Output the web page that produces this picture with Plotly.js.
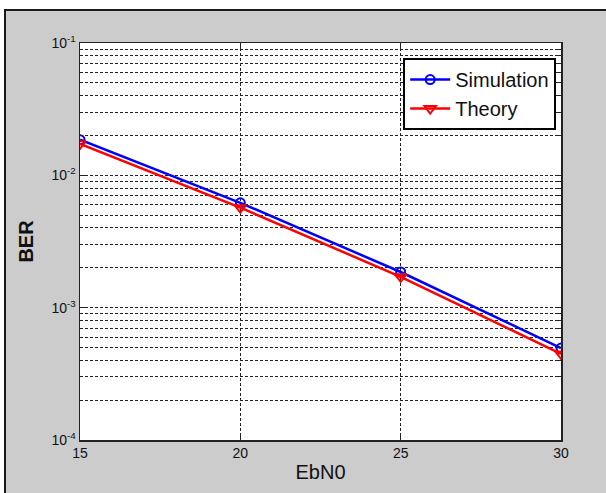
<!DOCTYPE html>
<html>
<head>
<meta charset="utf-8">
<script src="https://cdn.plot.ly/plotly-3.0.1.min.js"></script>
<style>
html,body{margin:0;padding:0;background:#fff;}
#frame{position:absolute;left:4px;top:9px;width:602px;height:484px;box-sizing:border-box;border:2px solid #1a1a1a;border-right:none;border-bottom:none;background:#cccccc;}
#chart{position:absolute;left:0;top:0;width:606px;height:493px;}
</style>
</head>
<body>
<div id="frame"></div>
<div id="chart"></div>
<script>
const ebn0 = [15, 20, 25, 30];
const berSimulation = [0.0186, 0.0062, 0.00186, 0.000495];
const berTheory = [0.0173, 0.0057, 0.00171, 0.000447];
const xTicks = [15, 20, 25, 30];
const yTickVals = [1e-4, 1e-3, 1e-2, 1e-1];
const yTickText = ['10<sup>-4</sup>', '10<sup>-3</sup>', '10<sup>-2</sup>', '10<sup>-1</sup>'];
const yMinorVals = [];
[1e-4, 1e-3, 1e-2].forEach(d => { for (let k = 2; k <= 9; k++) yMinorVals.push(d * k); });

const font = {family: 'Liberation Sans, Arial, sans-serif', color: '#111'};

const traces = [
  {x: ebn0, y: berSimulation, name: 'Simulation', type: 'scatter', mode: 'lines+markers',
   line: {color: '#0000ff', width: 2.5},
   marker: {symbol: 'circle-open', size: 9, color: '#0000ff', line: {width: 2}}},
  {x: ebn0, y: berTheory, name: 'Theory', type: 'scatter', mode: 'lines+markers',
   line: {color: '#ff0000', width: 2.5},
   marker: {symbol: 'triangle-down-open', size: 10, color: '#ff0000', line: {width: 2}}}
];

const gridStyle = {gridcolor: '#222', gridwidth: 1, griddash: '3px,2px'};

const layout = {
  width: 606, height: 493,
  margin: {l: 80, r: 45, t: 43, b: 53},
  paper_bgcolor: 'rgba(0,0,0,0)',
  plot_bgcolor: '#ffffff',
  showlegend: true,
  font: Object.assign({size: 14}, font),
  xaxis: Object.assign({
    range: [15, 30], tickmode: 'array', tickvals: xTicks,
    showgrid: true, zeroline: false,
    showline: true, linecolor: '#222', linewidth: 1.5, mirror: 'ticks',
    ticks: 'inside', ticklen: 5, tickcolor: '#222',
    tickfont: Object.assign({size: 14}, font),
    title: {text: 'EbN0', font: Object.assign({size: 20}, font), standoff: 4}
  }, gridStyle),
  yaxis: Object.assign({
    type: 'log', range: [-4, -1], tickmode: 'array', tickvals: yTickVals, ticktext: yTickText,
    showgrid: true, zeroline: false,
    showline: true, linecolor: '#222', linewidth: 1.5, mirror: 'ticks',
    ticks: 'inside', ticklen: 5, tickcolor: '#222',
    tickfont: Object.assign({size: 14}, font),
    minor: {tickvals: yMinorVals, showgrid: true, gridcolor: '#222', gridwidth: 1, griddash: '3px,2px', ticks: 'inside', ticklen: 3, tickcolor: '#222'},
    title: {text: 'BER', font: Object.assign({size: 20, weight: 'bold'}, font), standoff: 12}
  }, gridStyle),
  legend: {
    x: 0.99, y: 0.962, xanchor: 'right', yanchor: 'top',
    bgcolor: '#ffffff', bordercolor: '#000', borderwidth: 2,
    font: Object.assign({size: 20}, font),
    tracegroupgap: 0, itemwidth: 40
  }
};

Plotly.newPlot('chart', traces, layout, {displayModeBar: false, staticPlot: true});
</script>
</body>
</html>
